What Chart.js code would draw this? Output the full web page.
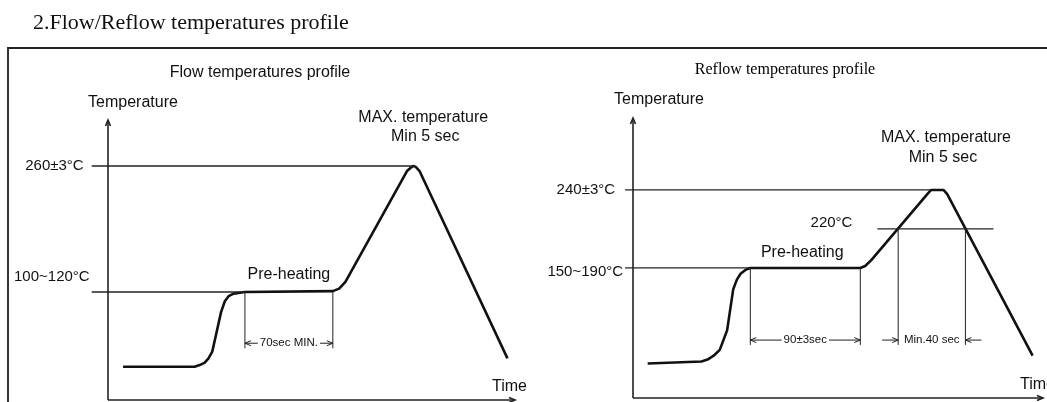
<!DOCTYPE html>
<html>
<head>
<meta charset="utf-8">
<script src="https://cdn.jsdelivr.net/npm/chart.js"></script>
<style>
body { margin: 0; background: #fff; }
#page { position: relative; width: 1047px; height: 402px; overflow: hidden; background: #fff; }
#frame { position: absolute; left: 7px; top: 47px; width: 1060px; height: 400px; border-top: 2px solid #222; border-left: 2px solid #333; }
#flow { position: absolute; left: 0; top: 0; }
#reflow { position: absolute; left: 520px; top: 0; }
</style>
</head>
<body>
<div id="page">
  <div id="frame"></div>
  <canvas id="flow" width="560" height="402"></canvas>
  <canvas id="reflow" width="527" height="402"></canvas>
</div>
<script>
// flow profile (time in sec, temperature in °C)
var flowTime = [12, 69, 73, 77, 80, 83, 86, 90, 93, 96, 100, 109, 179, 184, 189, 238, 241, 243, 245, 248, 318];
var flowTemp = [21, 21, 23, 26, 31, 39, 59, 86, 99, 105, 108, 110, 111, 114, 122, 254, 258, 260, 259, 254, 31];
var flowPeak = 260;
var flowPreheat = 110;
var flowLevelLabels = ['260±3°C', '100~120°C'];
var flowWindow = [109, 179];          // 70sec MIN.

// reflow profile
var reflowTime = [12, 56, 61, 66, 71, 77, 82, 85, 88, 92, 96, 186, 190, 195, 241, 244, 254, 257, 327];
var reflowTemp = [151, 152, 153, 155, 158, 168, 189, 194, 197, 199, 200, 200, 201, 204, 238, 240, 240, 238, 155];
var reflowPeak = 240;
var reflowMelt = 220;
var reflowPreheat = 200;
var reflowLevelLabels = ['240±3°C', '220°C', '150~190°C'];
var reflowWindow = [96, 186];         // 90±3sec
var reflowMeltWindow = [217, 272];    // Min.40 sec

var SANS = '"Liberation Sans", Arial, sans-serif';
var SERIF = '"Liberation Serif", "Times New Roman", serif';

function hLine(ctx, x0, x1, y) {
    ctx.beginPath(); ctx.moveTo(x0, y); ctx.lineTo(x1, y); ctx.stroke();
}
function vLine(ctx, x, y0, y1) {
    ctx.beginPath(); ctx.moveTo(x, y0); ctx.lineTo(x, y1); ctx.stroke();
}
function arrow(ctx, x, y, dir) {
    var s = 6, w = 2.5;
    ctx.beginPath();
    if (dir == 'r') { ctx.moveTo(x - s, y - w); ctx.lineTo(x, y); ctx.lineTo(x - s, y + w); }
    if (dir == 'l') { ctx.moveTo(x + s, y - w); ctx.lineTo(x, y); ctx.lineTo(x + s, y + w); }
    if (dir == 'u') { ctx.moveTo(x - w, y + s); ctx.lineTo(x, y); ctx.lineTo(x + w, y + s); }
    ctx.stroke();
}
function text(ctx, str, x, y, size, align, family) {
    ctx.font = size + 'px ' + (family || SANS);
    ctx.textAlign = align || 'center';
    ctx.textBaseline = 'middle';
    ctx.fillText(str, x, y);
}
function drawAxes(ctx, a) {
    ctx.lineWidth = 1.6;
    vLine(ctx, a.left, a.bottom, a.top);
    hLine(ctx, a.left, a.right, a.bottom);
    arrow(ctx, a.left, a.top, 'u');
    arrow(ctx, a.right, a.bottom, 'r');
}
function dimension(ctx, x0, x1, y, label, outside) {
    ctx.lineWidth = 1;
    if (outside) {
        hLine(ctx, x0 - 16, x0, y); arrow(ctx, x0, y, 'r');
        hLine(ctx, x1, x1 + 16, y); arrow(ctx, x1, y, 'l');
    } else {
        hLine(ctx, x0, x1, y); arrow(ctx, x0, y, 'l'); arrow(ctx, x1, y, 'r');
    }
    ctx.font = '11.5px ' + SANS;
    var w = ctx.measureText(label).width;
    var cx = (x0 + x1) / 2;
    if (!outside) {
        ctx.fillStyle = '#fff';
        ctx.fillRect(cx - w / 2 - 2, y - 6, w + 4, 12);
    }
    ctx.fillStyle = '#111';
    text(ctx, label, cx, y, 11.5);
}

function drawFlow(chart) {
    var ctx = chart.ctx, a = chart.chartArea, x = chart.scales.x, y = chart.scales.y;
    var px = function(v) { return x.getPixelForValue(v); };
    var py = function(v) { return y.getPixelForValue(v); };
    ctx.save();
    ctx.strokeStyle = '#222';
    ctx.fillStyle = '#111';

    ctx.font = '22px ' + SERIF;
    ctx.textAlign = 'left';
    ctx.textBaseline = 'alphabetic';
    ctx.fillText('2.Flow/Reflow temperatures profile', 33, 29);

    drawAxes(ctx, a);

    ctx.lineWidth = 1.3;
    hLine(ctx, px(-13), px(243), py(flowPeak));
    hLine(ctx, px(-13), px(flowWindow[0]), py(flowPreheat));
    ctx.lineWidth = 1;
    vLine(ctx, px(flowWindow[0]), py(flowPreheat), py(43));
    vLine(ctx, px(flowWindow[1]), py(flowPreheat), py(43));
    dimension(ctx, px(flowWindow[0]), px(flowWindow[1]), py(49), '70sec MIN.', false);

    text(ctx, 'Flow temperatures profile', 260, 73, 16);
    text(ctx, 'Temperature', a.left + 25, 103, 16);
    text(ctx, flowLevelLabels[0], px(-13) - 8, py(flowPeak), 15, 'right');
    text(ctx, flowLevelLabels[1], px(-13) - 2, py(flowPreheat) - 15, 15, 'right');
    text(ctx, 'Pre-heating', (px(flowWindow[0]) + px(flowWindow[1])) / 2, py(flowPreheat) - 17, 16);
    text(ctx, 'MAX. temperature', px(243) + 10, 118, 16);
    text(ctx, 'Min 5 sec', px(243) + 12, 137, 16);
    text(ctx, 'Time', a.right - 23, a.bottom - 13, 16, 'left');
    ctx.restore();
}

function drawReflow(chart) {
    var ctx = chart.ctx, a = chart.chartArea, x = chart.scales.x, y = chart.scales.y;
    var px = function(v) { return x.getPixelForValue(v); };
    var py = function(v) { return y.getPixelForValue(v); };
    ctx.save();
    ctx.strokeStyle = '#222';
    ctx.fillStyle = '#111';

    drawAxes(ctx, a);

    ctx.lineWidth = 1.3;
    hLine(ctx, px(-6.5), px(244), py(reflowPeak));
    hLine(ctx, px(-6.5), px(reflowWindow[0]), py(reflowPreheat));
    hLine(ctx, px(200), px(295), py(reflowMelt));
    ctx.lineWidth = 1;
    vLine(ctx, px(reflowWindow[0]), py(reflowPreheat), py(160.5));
    vLine(ctx, px(reflowWindow[1]), py(reflowPreheat), py(160.5));
    vLine(ctx, px(reflowMeltWindow[0]), py(reflowMelt), py(160.5));
    vLine(ctx, px(reflowMeltWindow[1]), py(reflowMelt), py(160.5));
    dimension(ctx, px(reflowWindow[0]), px(reflowWindow[1]), py(163), '90±3sec', false);
    dimension(ctx, px(reflowMeltWindow[0]), px(reflowMeltWindow[1]), py(163), 'Min.40 sec', true);

    ctx.fillStyle = '#000';
    text(ctx, 'Reflow temperatures profile', 265, 70, 16, 'center', SERIF);
    ctx.fillStyle = '#111';
    text(ctx, 'Temperature', a.left + 26, 100, 16);
    text(ctx, reflowLevelLabels[0], px(-6.5) - 10, py(reflowPeak), 15, 'right');
    text(ctx, reflowLevelLabels[1], px(200) - 25, py(reflowMelt) - 6, 15, 'right');
    text(ctx, reflowLevelLabels[2], px(-6.5) - 2, py(reflowPreheat) + 4, 15, 'right');
    text(ctx, 'Pre-heating', (px(reflowWindow[0]) + px(reflowWindow[1])) / 2 - 3, py(reflowPreheat) - 15, 16);
    text(ctx, 'MAX. temperature', px(243) + 16, 138, 16);
    text(ctx, 'Min 5 sec', px(243) + 13, 158, 16);
    text(ctx, 'Time', a.right - 23, a.bottom - 13, 16, 'left');
    ctx.restore();
}

function buildProfile(canvasId, times, temps, xMax, yMin, yMax, pad, drawExtras) {
    var points = [];
    for (var i = 0; i < times.length; i++) {
        points.push({ x: times[i], y: temps[i] });
    }
    return new Chart(document.getElementById(canvasId), {
        type: 'line',
        data: {
            datasets: [{
                data: points,
                borderColor: '#111',
                borderWidth: 2.6,
                borderJoinStyle: 'round',
                pointRadius: 0,
                fill: false,
                tension: 0
            }]
        },
        options: {
            responsive: false,
            animation: false,
            layout: { padding: pad },
            plugins: { legend: { display: false }, tooltip: { enabled: false } },
            scales: {
                x: { type: 'linear', display: false, min: 0, max: xMax },
                y: { display: false, min: yMin, max: yMax }
            }
        },
        plugins: [{ id: canvasId + 'Extras', afterDatasetsDraw: drawExtras }]
    });
}

buildProfile('flow', flowTime, flowTemp, 324, -18.6, 314.8,
    { left: 108, top: 120, right: 45, bottom: 2 }, drawFlow);
buildProfile('reflow', reflowTime, reflowTemp, 335.5, 133.3, 276.9,
    { left: 113, top: 118, right: 4, bottom: 4 }, drawReflow);
</script>
</body>
</html>
